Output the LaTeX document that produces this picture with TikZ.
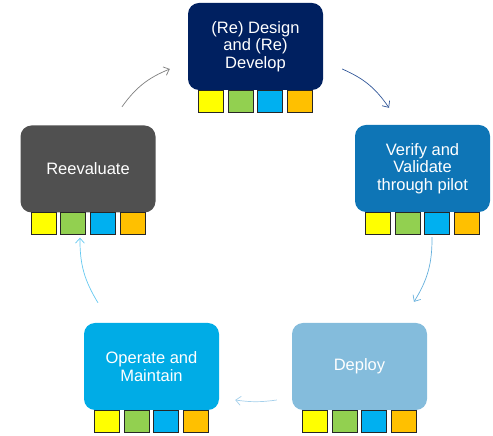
\documentclass[tikz,border=0pt]{standalone}
\usepackage{fontspec}
\setmainfont{Liberation Sans}
\usepackage{xcolor}
\usepackage{tikz}
\usetikzlibrary{arrows.meta,calc}
\definecolor{navyStage}{RGB}{0,32,96}
\definecolor{blueStage}{RGB}{14,117,182}
\definecolor{grayStage}{RGB}{80,80,80}
\definecolor{cyanStage}{RGB}{0,172,230}
\definecolor{paleStage}{RGB}{132,188,220}
\definecolor{swYellow}{RGB}{255,255,0}
\definecolor{swGreen}{RGB}{146,208,80}
\definecolor{swBlue}{RGB}{0,176,240}
\definecolor{swOrange}{RGB}{255,192,0}
\tikzset{
  stage/.style={rounded corners=11pt, minimum width=135pt, minimum height=87pt,
    inner sep=2pt, text=white, align=center, font=\fontsize{16.5}{17.5}\selectfont},
  swatch/.style={draw=black!85, line width=1pt, minimum width=25pt, minimum height=22pt,
    inner sep=0pt},
  cycleArrow/.style={-{Straight Barb[length=5pt,width=9pt]}, line width=0.7pt, bend left=16}
}
\newcommand{\Swatches}[1]{%
  \foreach \i/\c in {0/swYellow,1/swGreen,2/swBlue,3/swOrange}{%
    \node[swatch, fill=\c] (#1-\i) at ($(#1.south)+({-44.5+29.7*\i},-11)$) {};
  }%
}

\begin{document}
\begin{tikzpicture}[x=1pt,y=1pt]
  \useasboundingbox (0,0) rectangle (493,436);
  % Stages of the cycle
  \node[stage, fill=navyStage] (design) at (255.5,389.5) {(Re) Design\\and (Re)\\Develop};
  \node[stage, fill=blueStage] (verify) at (422.5,267.5) {Verify and\\Validate\\through pilot};
  \node[stage, fill=paleStage] (deploy) at (359.5,69.5) {Deploy};
  \node[stage, fill=cyanStage] (operate) at (151.5,69.5) {Operate and\\Maintain};
  \node[stage, fill=grayStage] (reeval) at (88,267) {Reevaluate};
  \Swatches{design}
  \Swatches{verify}
  \Swatches{deploy}
  \Swatches{operate}
  \Swatches{reeval}
  % Arrows round the cycle
  \draw[cycleArrow, draw={rgb,255:red,127;green,127;blue,127}]
    ($(reeval.north)+(34,18.5)$) to ($(design.west)+(-18,-22.5)$);
  \draw[cycleArrow, draw={rgb,255:red,47;green,85;blue,151}]
    ($(design.east)+(19,-22.5)$) to ($(verify.north)+(-33.5,17)$);
  \draw[cycleArrow, draw={rgb,255:red,100;green,175;blue,220}]
    ($(verify.south)+(9.5,-25)$) to ($(deploy.north)+(54.5,21)$);
  \draw[cycleArrow, draw={rgb,255:red,165;green,208;blue,235}, bend left=8]
    ($(deploy.west)+(-15,-33.5)$) to ($(operate.east)+(16,-33.5)$);
  \draw[cycleArrow, draw={rgb,255:red,100;green,200;blue,240}]
    ($(operate.north)+(-53.5,20)$) to ($(reeval.south)+(-8,-25)$);
\end{tikzpicture}
\end{document}
